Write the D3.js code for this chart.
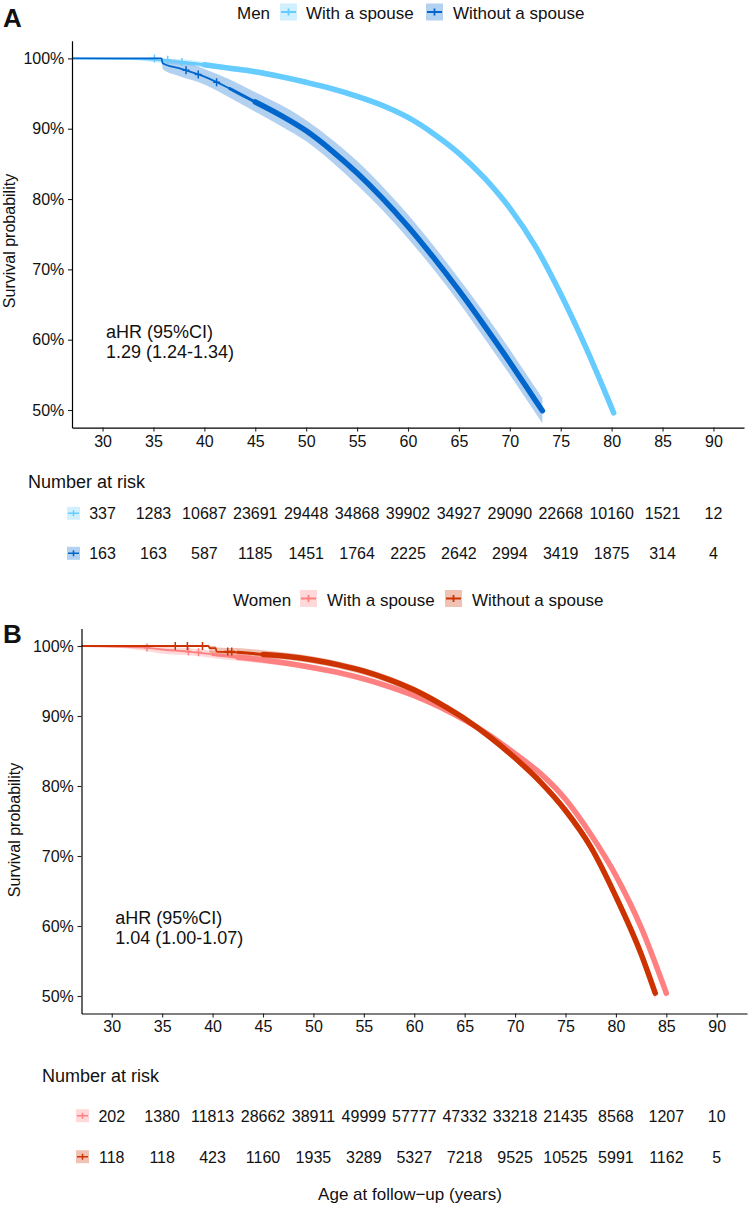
<!DOCTYPE html>
<html><head><meta charset="utf-8">
<script src="https://cdn.jsdelivr.net/npm/d3@7"></script>
<style>
body{margin:0;background:#fff}
text{font-family:"Liberation Sans",Arial,Helvetica,sans-serif;fill:#111}
</style>
</head><body>
<svg id="chart" width="750" height="1208" xmlns="http://www.w3.org/2000/svg"></svg>
<script>
// ---------- DATA ----------
const xTicks = [30,35,40,45,50,55,60,65,70,75,80,85,90];
const yTicks = [0.5,0.6,0.7,0.8,0.9,1.0];
const yTickLabels = ["50%","60%","70%","80%","90%","100%"];
const groupLabels = ["With a spouse","Without a spouse"];
const panelTitles = ["Men","Women"];
const hrLines = [["aHR (95%CI)","1.29 (1.24-1.34)"],["aHR (95%CI)","1.04 (1.00-1.07)"]];
const xTitle = "Age at follow\u2212up (years)";
const yTitle = "Survival probability";

// Men, with a spouse
const menWithAge = [27,33.7,35,37.5,40,42.5,45,47.5,50,52.5,55,57.5,60,62.5,65,67.5,70,72.5,75,77.5,80,80.2];
const menWithS   = [1,0.999,0.998,0.995,0.991,0.986,0.981,0.974,0.966,0.957,0.946,0.933,0.916,0.893,0.865,0.830,0.787,0.733,0.665,0.588,0.503,0.496];
const menWithLo  = [1,0.997,0.995,0.991,0.987,0.982,0.977,0.970,0.962,0.953,0.942,0.929,0.912,0.889,0.861,0.825,0.782,0.728,0.659,0.582,0.496,0.489];
const menWithHi  = [1,1.000,1.000,0.999,0.995,0.990,0.985,0.978,0.970,0.961,0.950,0.937,0.920,0.897,0.869,0.835,0.792,0.738,0.671,0.594,0.510,0.503];
// Men, without a spouse
const menWithoutAge = [27,35.8,35.9,37.5,40,42.5,45,47.5,50,52.5,55,57.5,60,62.5,65,67.5,70,72.5,73.2];
const menWithoutS   = [1,1,0.993,0.986,0.974,0.957,0.938,0.919,0.897,0.869,0.837,0.801,0.761,0.717,0.670,0.620,0.568,0.514,0.499];
const menWithoutLo  = [1,1,0.985,0.975,0.963,0.944,0.924,0.904,0.882,0.853,0.820,0.784,0.744,0.700,0.653,0.602,0.550,0.496,0.481];
const menWithoutHi  = [1,1,1.000,0.997,0.985,0.970,0.952,0.934,0.912,0.885,0.854,0.818,0.778,0.734,0.687,0.638,0.586,0.532,0.517];
// Women, with a spouse
const womenWithAge = [27,33,35,37.5,40,42.5,45,47.5,50,52.5,55,57.5,60,62.5,65,67.5,70,72.5,75,77.5,80,82.5,85];
const womenWithS   = [1,0.998,0.995,0.992,0.988,0.984,0.980,0.975,0.969,0.962,0.953,0.942,0.929,0.913,0.894,0.872,0.846,0.818,0.781,0.731,0.672,0.598,0.504];
const womenWithLo  = [1,0.994,0.989,0.987,0.983,0.979,0.975,0.971,0.965,0.958,0.949,0.938,0.925,0.909,0.890,0.868,0.842,0.814,0.776,0.726,0.666,0.592,0.497];
const womenWithHi  = [1,1.000,0.999,0.997,0.993,0.989,0.985,0.979,0.973,0.966,0.957,0.946,0.933,0.917,0.898,0.876,0.850,0.822,0.786,0.736,0.678,0.604,0.511];
// Women, without a spouse
const womenWithoutAge = [27,39.6,39.7,40.3,40.4,42.5,45,47.5,50,52.5,55,57.5,60,62.5,65,67.5,70,72.5,75,77.5,80,82.5,83.9];
const womenWithoutS   = [1,1,0.997,0.997,0.992,0.991,0.988,0.985,0.980,0.973,0.964,0.952,0.937,0.918,0.896,0.870,0.840,0.806,0.765,0.713,0.642,0.560,0.504];
const womenWithoutLo  = [1,1,0.990,0.990,0.985,0.985,0.982,0.980,0.975,0.968,0.959,0.947,0.932,0.913,0.891,0.865,0.835,0.801,0.759,0.707,0.635,0.552,0.495];
const womenWithoutHi  = [1,1,1.000,1.000,0.998,0.997,0.994,0.990,0.985,0.978,0.969,0.957,0.942,0.923,0.901,0.875,0.845,0.811,0.771,0.719,0.649,0.568,0.513];

// sparse censoring marks [age, survival]
const menWithCensor = [[35.1,1.0],[36.4,0.998],[37.8,0.995]];
const menWithoutCensor = [[38.2,0.983],[39.4,0.977],[41.2,0.966]];
const womenWithCensor = [[33.5,0.998],[37.6,0.992],[38.6,0.991]];
const womenWithoutCensor = [[36.3,1.0],[37.5,1.0],[39.0,1.0],[41.5,0.992],[41.9,0.992]];

// numbers at risk
const menWithRisk = [337,1283,10687,23691,29448,34868,39902,34927,29090,22668,10160,1521,12];
const menWithoutRisk = [163,163,587,1185,1451,1764,2225,2642,2994,3419,1875,314,4];
const womenWithRisk = [202,1380,11813,28662,38911,49999,57777,47332,33218,21435,8568,1207,10];
const womenWithoutRisk = [118,118,423,1160,1935,3289,5327,7218,9525,10525,5991,1162,5];

// ---------- DRAWING ----------
const svg = d3.select("#chart");
const FONT = '"Liberation Sans",Arial,Helvetica,sans-serif';

function mix(c, a){ const r=d3.rgb(c); return d3.rgb(255-(255-r.r)*a,255-(255-r.g)*a,255-(255-r.b)*a).formatHex(); }
function mk(ages,s,lo,hi){ return ages.map((a,i)=>({a:a,s:s[i],lo:lo[i],hi:hi[i]})); }

function drawPanel(p){
  const g = svg.append("g");
  const x = d3.scaleLinear().domain([27,93]).range(p.xr);
  const y = d3.scaleLinear().domain([0.475,1.025]).range(p.yr);

  const area = d3.area().x(d=>x(d.a)).y0(d=>y(d.lo)).y1(d=>y(d.hi)).curve(d3.curveMonotoneX);
  const line = d3.line().x(d=>x(d.a)).y(d=>y(d.s)).curve(d3.curveMonotoneX);
  p.series.forEach(s=>{
    g.append("path").attr("d",area(s.data)).attr("fill",s.color).attr("fill-opacity",0.3).attr("stroke","none");
  });
  p.series.forEach(s=>{
    g.append("path").attr("d",line(s.data)).attr("fill","none").attr("stroke",s.color).attr("stroke-width",1.8);
    const mid = s.data.filter(d=>d.a>=s.denseFrom-3);
    g.append("path").attr("d",line(mid)).attr("fill","none").attr("stroke",s.color)
      .attr("stroke-width",3).attr("stroke-linejoin","round").attr("stroke-linecap","round");
    const dense = s.data.filter(d=>d.a>=s.denseFrom);
    g.append("path").attr("d",line(dense)).attr("fill","none").attr("stroke",s.color)
      .attr("stroke-width",s.thick).attr("stroke-linejoin","round").attr("stroke-linecap","round");
    s.censor.forEach(c=>{
      const cx=x(c[0]), cy=y(c[1]);
      g.append("path").attr("d",`M${cx-3.5},${cy}H${cx+3.5}M${cx},${cy-4}V${cy+4}`)
        .attr("stroke",s.color).attr("stroke-width",1.5);
    });
  });

  const ya = g.append("g").attr("transform",`translate(${p.xr[0]},0)`)
    .call(d3.axisLeft(y).tickValues(yTicks).tickFormat((d,i)=>yTickLabels[i]).tickSize(4).tickPadding(3.7).tickSizeOuter(0));
  const xa = g.append("g").attr("transform",`translate(0,${p.yr[0]})`)
    .call(d3.axisBottom(x).tickValues(xTicks).tickFormat(d3.format("d")).tickSize(4).tickPadding(3.6).tickSizeOuter(0));
  [ya,xa].forEach(a=>{
    a.select(".domain").attr("stroke","#000").attr("stroke-width",1.2);
    a.selectAll(".tick line").attr("stroke","#222").attr("stroke-width",1.1);
    a.selectAll(".tick text").attr("font-size",16).attr("font-family",FONT).attr("fill","#111");
  });

  g.append("text").attr("transform",`translate(${p.yTitleX},${p.yTitleY}) rotate(-90)`)
    .attr("text-anchor","middle").attr("font-size",16).text(yTitle);

  g.append("text").attr("x",3).attr("y",p.letterY).attr("font-size",26).attr("font-weight","bold").attr("fill","#000").text(p.letter);

  g.append("text").attr("x",x(30.34)).attr("y",y(0.603)).attr("font-size",18).text(p.hr[0]);
  g.append("text").attr("x",x(30.34)).attr("y",y(0.603)+20.5).attr("font-size",18).text(p.hr[1]);

  const L = p.legend;
  g.append("text").attr("x",L.titleX).attr("y",L.base).attr("font-size",17).text(p.title);
  p.series.forEach((s,i)=>{
    const kx=L.keyX[i], ky=L.base-15.5, k=17;
    g.append("rect").attr("x",kx).attr("y",ky).attr("width",k).attr("height",k).attr("fill",mix(s.color,0.3));
    g.append("path").attr("d",`M${kx+1},${ky+k/2}H${kx+k-1}M${kx+k/2},${ky+k/2-3.5}V${ky+k/2+3.5}`)
      .attr("stroke",s.color).attr("stroke-width",1.8);
    g.append("text").attr("x",L.textX[i]).attr("y",L.base).attr("font-size",17).text(groupLabels[i]);
  });

  const R = p.risk;
  g.append("text").attr("x",R.titleX).attr("y",R.titleBase).attr("font-size",18).text("Number at risk");
  p.series.forEach((s,i)=>{
    const base = R.rowBase[i], cy = base-6;
    const kx=R.keyX, k=13;
    g.append("rect").attr("x",kx).attr("y",cy-k/2).attr("width",k).attr("height",k).attr("fill",mix(s.color,0.3));
    g.append("path").attr("d",`M${kx+1},${cy}H${kx+k-1}M${kx+k/2},${cy-3}V${cy+3}`)
      .attr("stroke",s.color).attr("stroke-width",1.5);
    g.selectAll(null).data(s.risk).enter().append("text")
      .attr("x",(d,j)=>x(xTicks[j])).attr("y",base).attr("text-anchor","middle").attr("font-size",16)
      .text(d=>d);
  });
}

drawPanel({
  letter:"A", letterY:27, title:panelTitles[0], hr:hrLines[0],
  xr:[72,744], yr:[427.6,40.8], yTitleX:15, yTitleY:241,
  legend:{titleX:237, base:19, keyX:[280,426], textX:[306,453]},
  risk:{titleX:28, titleBase:488, keyX:67, rowBase:[519.3,559.3]},
  series:[
    {data:mk(menWithAge,menWithS,menWithLo,menWithHi), color:"#66CCFF", denseFrom:40, thick:5.5, censor:menWithCensor, risk:menWithRisk},
    {data:mk(menWithoutAge,menWithoutS,menWithoutLo,menWithoutHi), color:"#0066CC", denseFrom:44, thick:5.5, censor:menWithoutCensor, risk:menWithoutRisk}
  ]
});

drawPanel({
  letter:"B", letterY:643, title:panelTitles[1], hr:hrLines[1],
  xr:[81.5,747], yr:[1013.5,628.5], yTitleX:20, yTitleY:830,
  legend:{titleX:233, base:605.5, keyX:[300,445], textX:[327,472]},
  risk:{titleX:42, titleBase:1082, keyX:76, rowBase:[1121.7,1162.7]},
  series:[
    {data:mk(womenWithAge,womenWithS,womenWithLo,womenWithHi), color:"#FF8080", denseFrom:42.5, thick:5.5, censor:womenWithCensor, risk:womenWithRisk},
    {data:mk(womenWithoutAge,womenWithoutS,womenWithoutLo,womenWithoutHi), color:"#CC3300", denseFrom:45, thick:5.5, censor:womenWithoutCensor, risk:womenWithoutRisk}
  ]
});

svg.append("text").attr("x",410).attr("y",1200).attr("text-anchor","middle").attr("font-size",17).text(xTitle);
</script>
</body></html>
